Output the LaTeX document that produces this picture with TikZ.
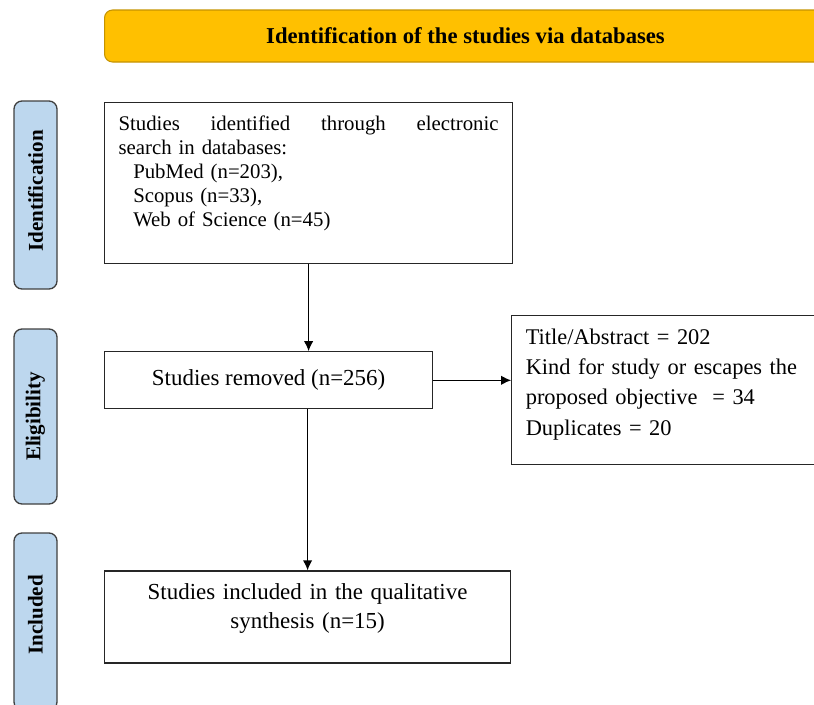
\documentclass[tikz,border=0pt]{standalone}
\usepackage{fontspec}
\setmainfont{Liberation Serif}
\usetikzlibrary{arrows.meta, positioning}

\definecolor{bannergold}{HTML}{FFC000}
\definecolor{bannerline}{HTML}{C59300}
\definecolor{phaseblue}{HTML}{BDD7EE}

\begin{document}
\begin{tikzpicture}[x=0.75pt, y=-0.75pt,
          banner/.style={rectangle, rounded corners=6pt, draw=bannerline, fill=bannergold, line width=0.8pt, minimum width=541.5pt, minimum height=39pt, font=\fontsize{17}{20}\selectfont\bfseries},
          phase/.style={rectangle, rounded corners=6pt, draw=black!75, fill=phaseblue, line width=1pt, rotate=90, minimum height=32.25pt, font=\fontsize{15.8}{19}\selectfont\bfseries},
          entity/.style={rectangle, draw=black!85, line width=0.9pt, inner xsep=10.5pt, inner ysep=0pt},
          arrow/.style={-{Latex[length=7.5pt, width=7pt]}, line width=1pt, color=black}]

        \useasboundingbox (0,0) rectangle (814,704);

        \node [banner, anchor=west] (header) at (104,36) {Identification of the studies via databases};

        \node [phase, minimum width=141pt] (ph_ident) at (35.5,195) {\hspace*{6pt}Identification};
        \node [phase, minimum width=131.25pt] (ph_elig) at (35.5,416.5) {Eligibility};
        \node [phase, minimum width=132.75pt] (ph_incl) at (35.5,621.5) {\hspace*{10pt}Included};

        \node [entity, anchor=north west, text width=285pt, align=left, text height=21pt, text depth=99.75pt, font=\fontsize{15.6}{18}\selectfont] (identified) at (104,102) {Studies\hfill identified\hfill through\hfill electronic\\search in databases:\\\hspace*{11pt}PubMed (n=203),\\\hspace*{11pt}Scopus (n=33),\\\hspace*{11pt}Web of Science (n=45)};
        \node [entity, below=65.25pt of identified.south west, anchor=north west, minimum width=246pt, minimum height=42.75pt, inner xsep=0pt, font=\fontsize{17.2}{21}\selectfont] (removed) {Studies removed (n=256)};
        \node [entity, right=58.5pt of removed, yshift=-7.5pt, text width=206pt, align=left, text height=21.4pt, text depth=90.4pt, font=\fontsize{16.8}{22.7}\selectfont] (excluded) {Title/Abstract = 202\\\mbox{Kind for study or escapes the}\\proposed objective \ = 34\\Duplicates = 20};
        \node [entity, below=120.75pt of removed.south west, anchor=north west, text width=283.5pt, align=center, text height=21.5pt, text depth=47.5pt, font=\fontsize{17.2}{21.75}\selectfont] (included) {Studies included in the qualitative\\synthesis (n=15)};

        \draw [arrow] (identified.south) -- (identified.south |- removed.north);
        \draw [arrow] (removed.east) -- (removed.east -| excluded.west);
        \draw [arrow] (included.north |- removed.south) -- (included.north);
      \end{tikzpicture}
\end{document}
